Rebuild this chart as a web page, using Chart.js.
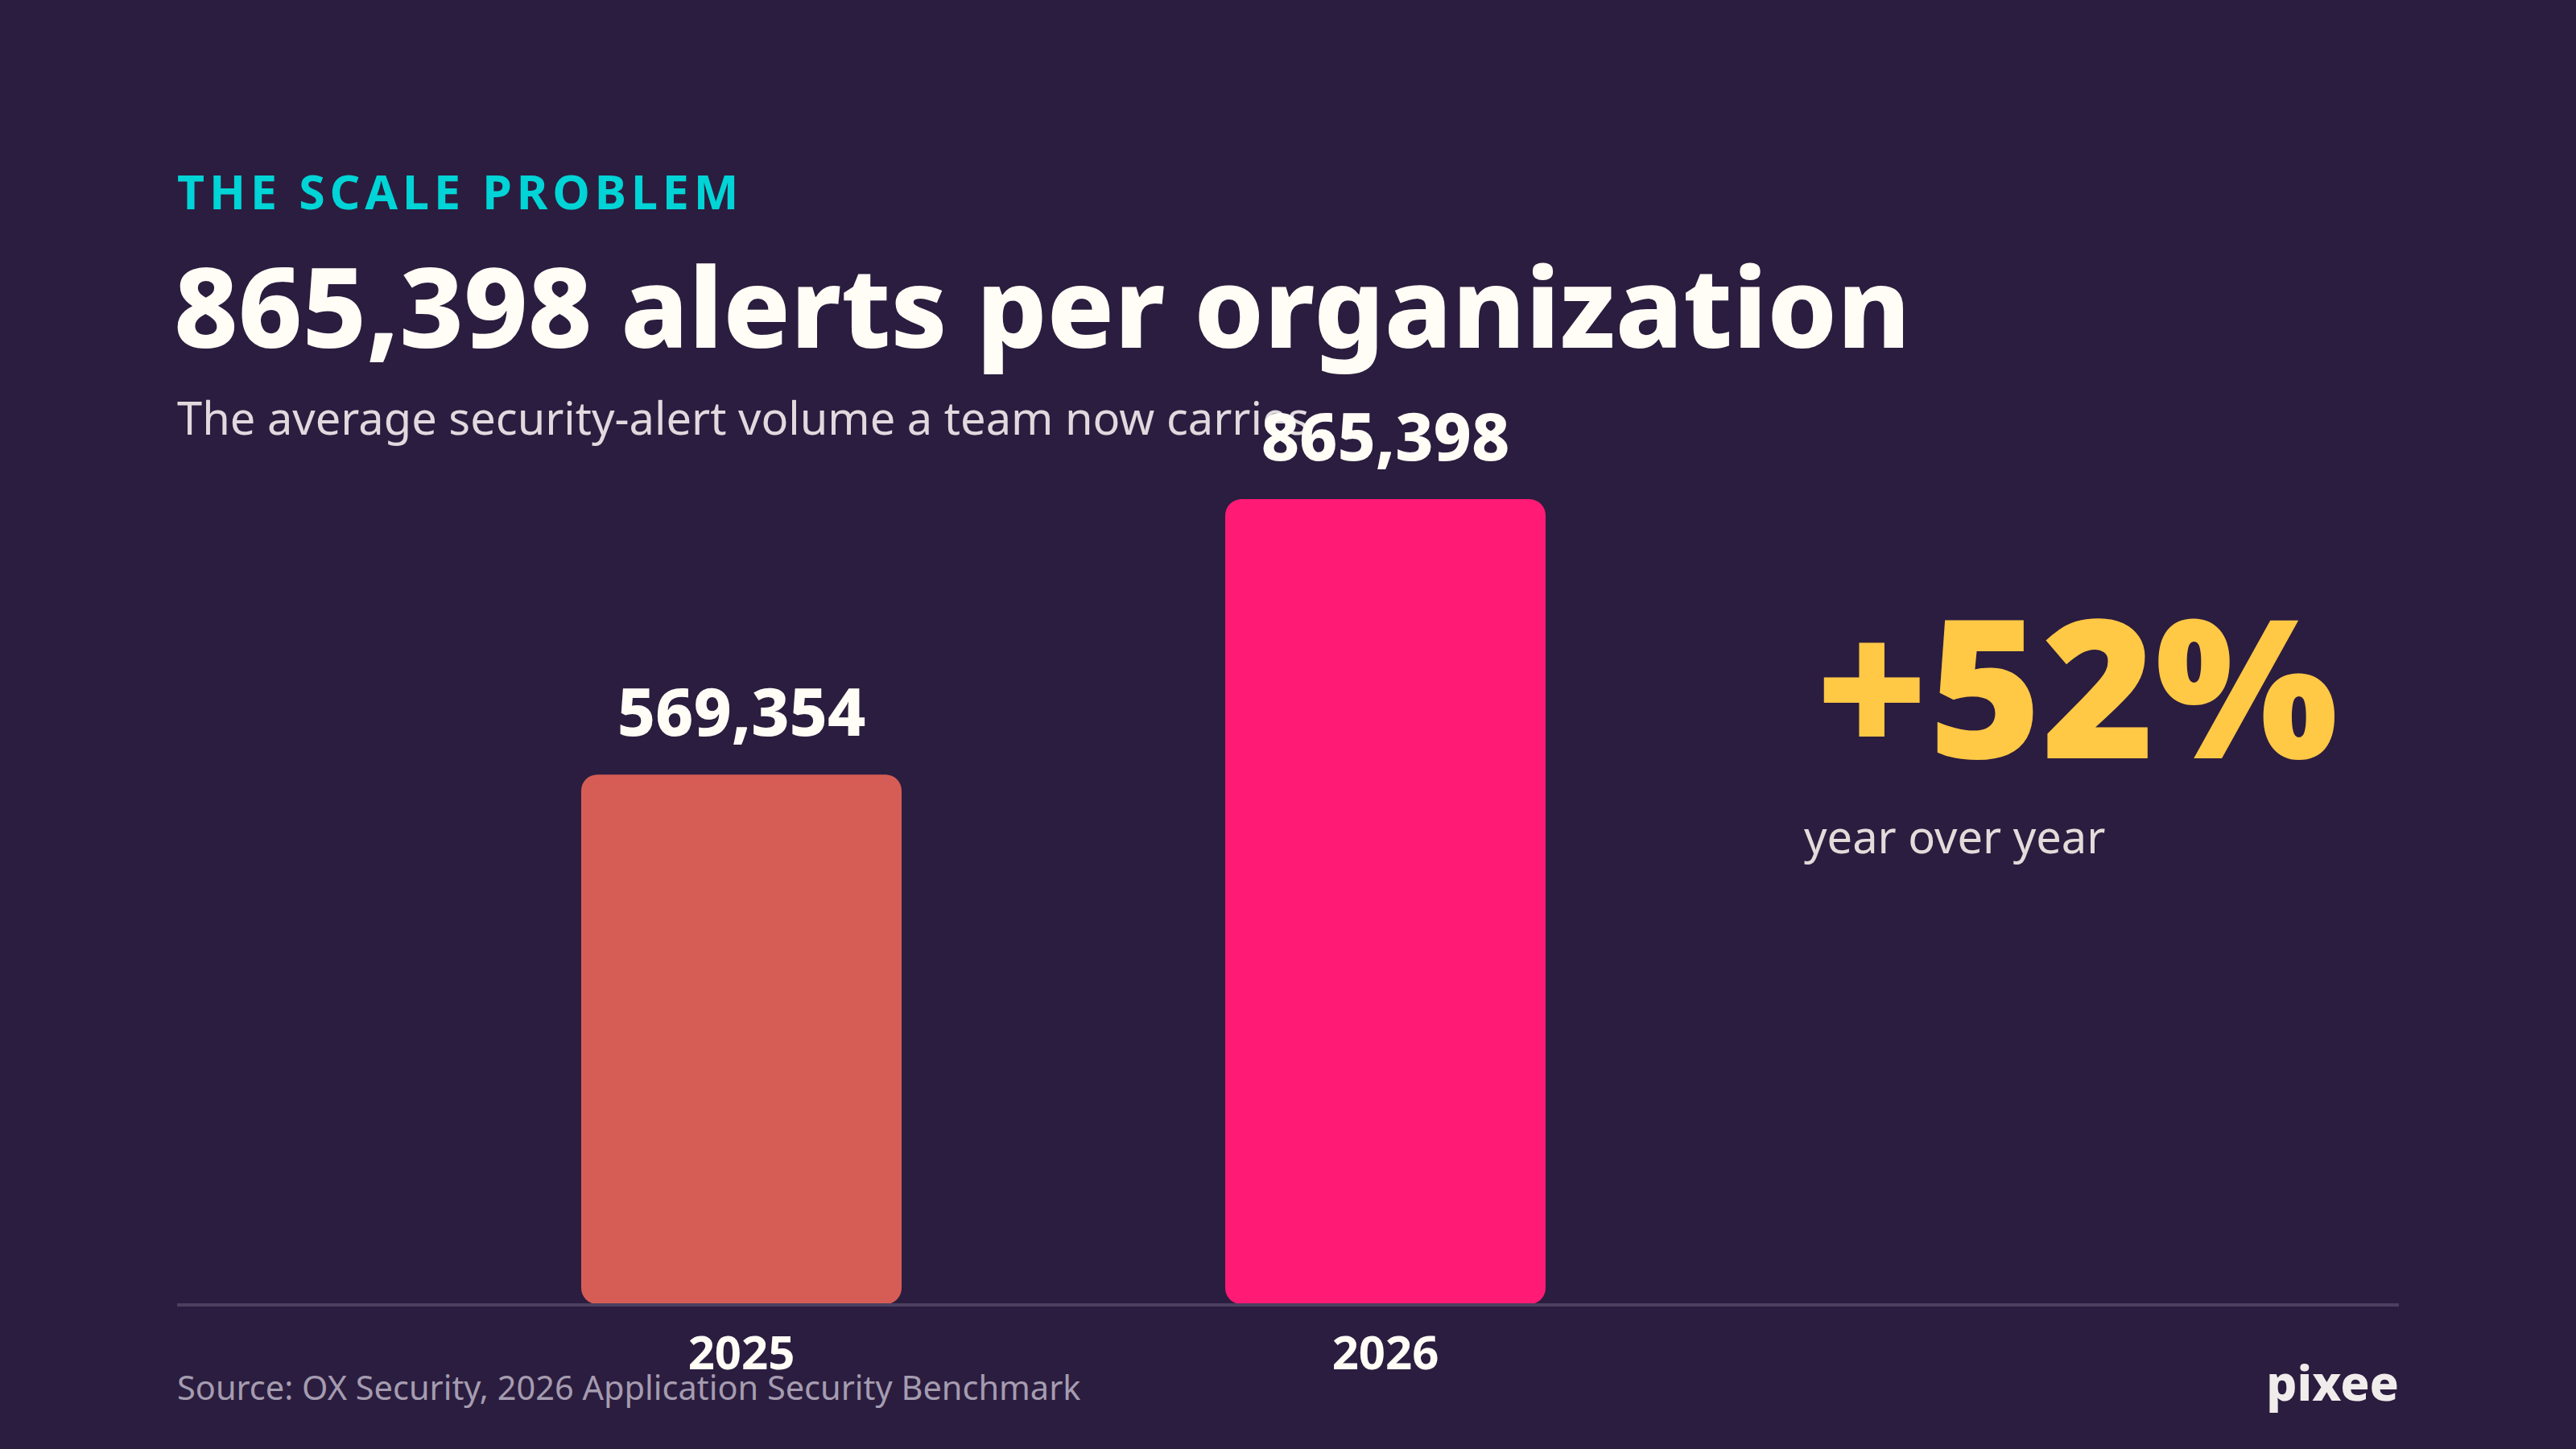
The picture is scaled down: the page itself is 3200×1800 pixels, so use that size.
<!DOCTYPE html>
<html>
<head>
<meta charset="utf-8">
<title>The scale problem</title>
<script src="https://cdn.jsdelivr.net/npm/chart.js@4.4.1/dist/chart.umd.min.js"></script>
<style>
  html, body { margin: 0; padding: 0; }
  body {
    width: 3200px; height: 1800px; overflow: hidden;
    background: #2b1d3f; position: relative;
    font-family: 'Noto Sans', sans-serif;
  }
  .txt { position: absolute; line-height: 1; white-space: nowrap; }
  #kicker { left: 220px; top: 208px; font-size: 59px; font-weight: 700; letter-spacing: 0.1em; color: #00d4d6; }
  #title { left: 216px; top: 309px; font-size: 138px; font-weight: 800; color: #fffdf5; }
  #subtitle { left: 220px; top: 490px; font-size: 56px; font-weight: 400; color: #e0d9de; }
  #bigpct { left: 2255px; top: 729px; font-size: 240px; font-weight: 900; color: #ffc845; }
  #yoy { left: 2241px; top: 1010px; font-size: 56px; font-weight: 400; color: #e2dcda; }
  #source { left: 220px; top: 1703px; font-size: 41.5px; font-weight: 400; color: #a59cb0; }
  #logo { right: 220px; top: 1687px; font-size: 60px; font-weight: 800; color: #f0ecec; }
  #wrap { position: absolute; left: 0; top: 0; width: 3200px; height: 1800px; }
</style>
</head>
<body>
<div class="txt" id="kicker">THE SCALE PROBLEM</div>
<div class="txt" id="title">865,398 alerts per organization</div>
<div class="txt" id="subtitle">The average security-alert volume a team now carries</div>
<div class="txt" id="bigpct">+52%</div>
<div class="txt" id="yoy">year over year</div>
<div class="txt" id="source">Source: OX Security, 2026 Application Security Benchmark</div>
<div class="txt" id="logo">pixee</div>
<div id="wrap"><canvas id="alerts-chart"></canvas></div>

<script>
var years = ['2025', '2026'];
var alerts = [569354, 865398];
var barColors = ['#d65d55', '#ff1a75'];

// value labels above each bar
var valueLabels = {
  id: 'valueLabels',
  afterDatasetsDraw: function (chart) {
    var ctx = chart.ctx;
    var meta = chart.getDatasetMeta(0);
    ctx.save();
    ctx.font = '800 82px "Noto Sans"';
    ctx.fillStyle = '#fffdf5';
    ctx.textAlign = 'center';
    ctx.textBaseline = 'alphabetic';
    meta.data.forEach(function (bar, i) {
      ctx.fillText(alerts[i].toLocaleString('en-US'), bar.x, bar.y - 48);
    });
    ctx.restore();
  }
};

// baseline rule, wider than the plot area
var baseRule = {
  id: 'baseRule',
  afterDatasetsDraw: function (chart) {
    var ctx = chart.ctx;
    var y = chart.scales.y.getPixelForValue(0) + 1;
    ctx.save();
    ctx.strokeStyle = '#4c4060';
    ctx.lineWidth = 4;
    ctx.beginPath();
    ctx.moveTo(220, y);
    ctx.lineTo(2980, y);
    ctx.stroke();
    ctx.restore();
  }
};

Chart.defaults.font.family = '"Noto Sans", sans-serif';

var ctx = document.getElementById('alerts-chart').getContext('2d');
new Chart(ctx, {
  type: 'bar',
  data: {
    labels: years,
    datasets: [{
      label: 'Alerts per organization',
      data: alerts,
      backgroundColor: barColors,
      borderRadius: 20,
      borderSkipped: false,
      categoryPercentage: 1,
      barPercentage: 0.4975
    }]
  },
  options: {
    responsive: true,
    maintainAspectRatio: false,
    animation: false,
    layout: { padding: { left: 521, right: 1079, top: 464.6, bottom: 50.4 } },
    plugins: { legend: { display: false }, tooltip: { enabled: false } },
    scales: {
      y: { display: false, min: 0, max: 1000000 },
      x: {
        grid: { display: false, drawTicks: false },
        border: { display: false },
        ticks: { color: '#fffdf5', padding: 30, font: { size: 58, weight: '700' } }
      }
    }
  },
  plugins: [valueLabels, baseRule]
});
</script>
</body>
</html>
